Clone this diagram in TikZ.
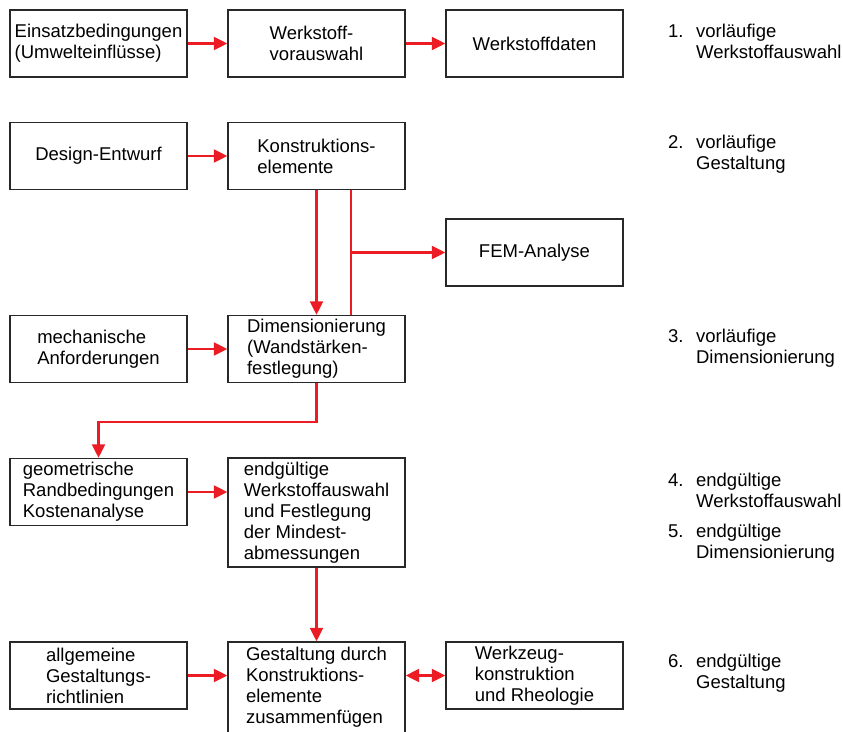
\documentclass[tikz,border=0pt]{standalone}
\usepackage{fontspec}
\setmainfont{Liberation Sans}
\usepackage{tikz}
\usetikzlibrary{arrows.meta}

\definecolor{flowred}{RGB}{235,28,36}
\definecolor{framegray}{RGB}{40,40,40}

\newcommand{\phasetext}[3]{\begin{tabular}{@{}l@{\hspace{12.5pt}}l@{}}#1 & #2\\ & #3\end{tabular}}

\begin{document}
\begin{tikzpicture}[x=1pt,y=-1pt,>={Triangle[length=13.5pt,width=13pt]},
  font=\fontsize{18.5}{21}\selectfont]
  \tikzstyle{stage}=[draw=framegray,line width=1.4pt,minimum width=177pt,
    minimum height=67pt,align=left,inner sep=2pt]
  \tikzstyle{phase}=[anchor=west,inner sep=0pt]
  \tikzstyle{flow}=[draw=flowred,line width=2.2pt]

  \useasboundingbox (0,0) rectangle (843,731);

  % boxes
  \node[stage] (einsatz)  at (98.5,43.5)  {Einsatzbedingungen\\(Umwelteinflüsse)};
  \node[stage] (vorwahl)  at (316.5,43.5) {Werkstoff-\\vorauswahl};
  \node[stage] (daten)    at (534.5,43.5) {Werkstoffdaten};
  \node[stage] (entwurf)  at (98.5,156)   {Design-Entwurf};
  \node[stage] (konstr)   at (316.5,156)  {Konstruktions-\\elemente};
  \node[stage] (fem)      at (534.5,252.5) {FEM-Analyse};
  \node[stage] (mech)     at (98.5,349)   {mechanische\\Anforderungen};
  \node[stage] (dim)      at (316.5,349)  {Dimensionierung\\(Wandstärken-\\festlegung)};
  \node[stage] (geo)      at (98.5,492)   {geometrische\\Randbedingungen\\Kostenanalyse};
  \node[stage,minimum height=109pt] (endg) at (316.5,512.5)
    {endgültige\\Werkstoffauswahl\\und Festlegung\\der Mindest-\\abmessungen};
  \node[stage] (allg)     at (98.5,675.5) {allgemeine\\Gestaltungs-\\richtlinien};
  \node[stage,minimum height=91pt] (gestalt) at (316.5,687.5)
    {Gestaltung durch\\Konstruktions-\\elemente\\zusammenfügen};
  \node[stage] (werkz)    at (534.5,675.5) {Werkzeug-\\konstruktion\\und Rheologie};

  % phases
  \node[phase] (p1) at (668,43.5)  {\phasetext{1.}{vorläufige}{Werkstoffauswahl}};
  \node[phase] (p2) at (668,155)   {\phasetext{2.}{vorläufige}{Gestaltung}};
  \node[phase] (p3) at (668,348.5) {\phasetext{3.}{vorläufige}{Dimensionierung}};
  \node[phase] (p4) at (668,492.5) {\phasetext{4.}{endgültige}{Werkstoffauswahl}};
  \node[phase] (p5) at (668,544)   {\phasetext{5.}{endgültige}{Dimensionierung}};
  \node[phase] (p6) at (668,674)   {\phasetext{6.}{endgültige}{Gestaltung}};

  % connectors
  \coordinate (kr)   at ([xshift=34.5pt]konstr.south);
  \coordinate (bend) at (316.5,422);

  \draw[flow,->] (einsatz) -- (vorwahl);
  \draw[flow,->] (vorwahl) -- (daten);
  \draw[flow,->] (entwurf) -- (konstr);
  \draw[flow,->] (konstr) -- (dim);
  \draw[flow,->] (mech) -- (dim);
  \draw[flow,->] (geo.east) -- (geo.east -| endg.west);
  \draw[flow,->] (endg) -- (gestalt);
  \draw[flow,->] (allg.east) -- (allg.east -| gestalt.west);
  \draw[flow] (kr) -- (kr |- dim.north);
  \draw[flow,->] (kr |- fem) -- (fem.west);
  \draw[flow,->] (dim.south) -- (bend) -| (geo.north);
  \draw[flow,<->] (werkz.west) -- (werkz.west -| gestalt.east);
\end{tikzpicture}
\end{document}
